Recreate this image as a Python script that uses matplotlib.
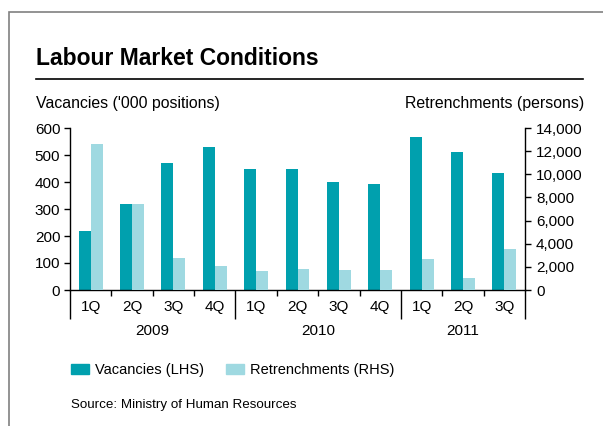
import numpy as np
import matplotlib
matplotlib.use("Agg")
import matplotlib.pyplot as plt
from matplotlib.patches import Patch, Rectangle
from matplotlib.ticker import FuncFormatter
import matplotlib.transforms as mtransforms

plt.rcParams['font.family'] = ['Liberation Sans', 'DejaVu Sans']

# data
quarters = ['1Q', '2Q', '3Q', '4Q', '1Q', '2Q', '3Q', '4Q', '1Q', '2Q', '3Q']
years = ['2009', '2010', '2011']
year_centres = [1.5, 5.5, 9.0]
year_breaks = [-0.5, 3.5, 7.5, 10.5]
vacancies = [220, 317, 471, 531, 449, 449, 401, 394, 568, 512, 434]          # '000 positions (LHS)
retrenchments = [12650, 7450, 2800, 2100, 1650, 1800, 1750, 1750, 2650, 1050, 3550]  # persons (RHS)

dark = '#00A0AE'
light = '#9FD9E1'

W, H = 603, 426
fig = plt.figure(figsize=(W / 100, H / 100), dpi=100)

# grey frame (left and top edges visible)
fig.patches.append(Rectangle((9 / W, -0.1), 1.2, 1.1 - 12 / H, transform=fig.transFigure,
                             fill=False, edgecolor='#808080', lw=1.2))

ax = fig.add_axes([70 / W, 1 - 290 / H, 455 / W, 162 / H])
ax2 = ax.twinx()

x = np.arange(len(quarters))
bw = 0.29
ax.bar(x - bw / 2, vacancies, bw, color=dark, label='Vacancies (LHS)')
ax2.bar(x + bw / 2, retrenchments, bw, color=light, label='Retrenchments (RHS)')

ax.set_xlim(-0.5, 10.5)
ax.set_ylim(0, 600)
ax2.set_ylim(0, 14000)
ax.set_yticks(range(0, 601, 100))
ax2.set_yticks(range(0, 14001, 2000))
ax2.yaxis.set_major_formatter(FuncFormatter(lambda v, p: f'{int(v):,}'))

for a in (ax, ax2):
    a.spines['top'].set_visible(False)
    for s in a.spines.values():
        s.set_linewidth(1.0)
ax2.spines['left'].set_visible(False)
ax2.spines['bottom'].set_visible(False)
ax.spines['right'].set_visible(False)

ax.tick_params(axis='y', direction='out', length=4, width=1, pad=3, labelsize=11)
ax2.tick_params(axis='y', direction='out', length=4, width=1, pad=4, labelsize=11)

ax.set_xticks(x)
ax.set_xticklabels(quarters)
ax.tick_params(axis='x', which='major', length=0, pad=7, labelsize=11)
ax.set_xticks([0.5, 1.5, 2.5, 4.5, 5.5, 6.5, 8.5, 9.5], minor=True)
ax.tick_params(axis='x', which='minor', direction='out', length=4, width=1)

trans = ax.get_xaxis_transform()
ax.vlines(year_breaks, -29 / 162, 0, transform=trans, colors='black', lw=1.0, clip_on=False)
for yr, xc in zip(years, year_centres):
    ax.text(xc, -41 / 162, yr, transform=trans, ha='center', va='center', fontsize=11)

# titles and axis captions
fig.text(36 / W, 1 - 65 / H, 'Labour Market Conditions', fontsize=16.5, fontweight='bold',
         va='baseline', ha='left')
fig.add_artist(plt.Line2D([36 / W, 583 / W], [1 - 79 / H, 1 - 79 / H], color='black', lw=1.2))
fig.text(36 / W, 1 - 108 / H, "Vacancies ('000 positions)", fontsize=11.4, va='baseline', ha='left')
fig.text(584 / W, 1 - 108 / H, 'Retrenchments (persons)', fontsize=11.4, va='baseline', ha='right')

handles = [Patch(color=dark, label='Vacancies (LHS)'), Patch(color=light, label='Retrenchments (RHS)')]
fig.legend(handles=handles, loc='center left', bbox_to_anchor=(71 / W, 1 - 370 / H), ncol=2,
           frameon=False, fontsize=10.5, handlelength=1.23, handleheight=0.62,
           handletextpad=0.41, columnspacing=1.5, borderpad=0, borderaxespad=0)

fig.text(71 / W, 1 - 408 / H, 'Source: Ministry of Human Resources', fontsize=9.6,
         va='baseline', ha='left')

fig.savefig('out.png', dpi=100)
